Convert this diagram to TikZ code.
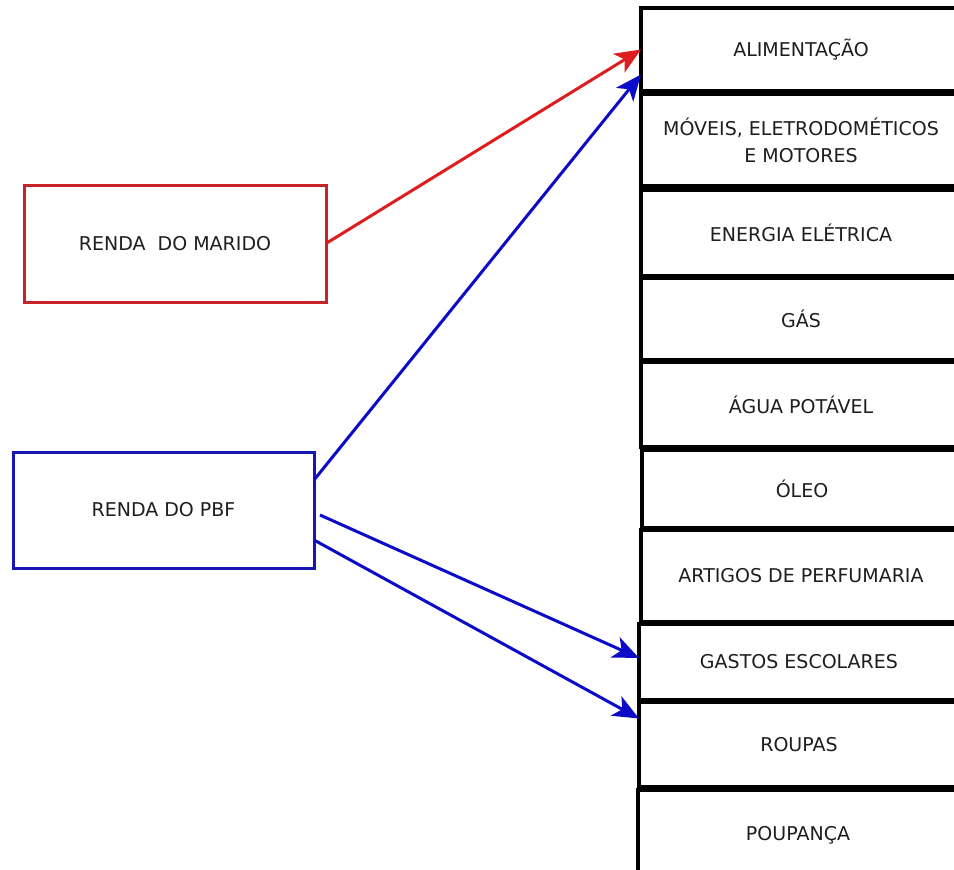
\documentclass[tikz,border=0pt]{standalone}
\usepackage{fontspec}
\setmainfont{DejaVu Sans}
\usetikzlibrary{arrows.meta}

\definecolor{husbandframe}{RGB}{200,35,40}
\definecolor{husbandarrow}{RGB}{222,30,30}
\definecolor{pbfframe}{RGB}{22,22,180}
\definecolor{pbfarrow}{RGB}{12,12,200}
\definecolor{ink}{RGB}{30,30,30}

\begin{document}
\begin{tikzpicture}[x=1pt,y=-1pt,
  every node/.style={font=\fontsize{19}{27}\selectfont, text=ink,
                     inner sep=0pt, outer sep=0pt, align=center},
  catbox/.style={draw=black, line width=3.6pt, minimum width=320pt},
  incomebox/.style={line width=3pt, minimum width=302pt, minimum height=117pt},
  flow/.style={line width=3pt,
               -{Stealth[length=26pt, width=22pt, inset=7pt]}},
  husbandflow/.style={flow, draw=husbandarrow, fill=husbandarrow},
  pbfflow/.style={flow, draw=pbfarrow, fill=pbfarrow}]

  \useasboundingbox (0,0) rectangle (954,870);
  \fill[white] (0,0) rectangle (954,870);
  \clip (0,0) rectangle (954,870);

  % income sources
  \node[incomebox, draw=husbandframe] (marido) at (175,243.5) {RENDA\ \ DO MARIDO};
  \node[incomebox, draw=pbfframe, minimum width=301pt, minimum height=116pt]
        (pbf) at (163.5,510) {RENDA DO PBF};

  % expense categories, stacked on the right
  \node[catbox, minimum height=83pt] (alim)    at (801,49.5)  {ALIMENTAÇÃO};
  \node[catbox, minimum height=92pt] (moveis)  at (801,140)   {MÓVEIS, ELETRODOMÉTICOS\\E MOTORES};
  \node[catbox, minimum height=86pt] (energia) at (801,233)   {ENERGIA ELÉTRICA};
  \node[catbox, minimum height=82pt] (gas)     at (801,319)   {GÁS};
  \node[catbox, minimum height=85pt] (agua)    at (801,404.5) {ÁGUA POTÁVEL};
  \node[catbox, minimum height=78pt] (oleo)    at (802,489)   {ÓLEO};
  \node[catbox, minimum height=92pt] (artigos) at (801,576)   {ARTIGOS DE PERFUMARIA};
  \node[catbox, minimum height=76pt] (gastos)  at (799,662)   {GASTOS ESCOLARES};
  \node[catbox, minimum height=85pt] (roupas)  at (799,744.5) {ROUPAS};
  \node[catbox, minimum height=86pt, text depth=0pt] (poupanca) at (798,833) {POUPANÇA};

  % where each income goes
  \draw[husbandflow] (marido.east) -- (alim.west);
  \draw[pbfflow] ([yshift=30pt]pbf.east) -- ([yshift=-25pt]alim.west);
  \draw[pbfflow] ([xshift=6pt,yshift=-5pt]pbf.east) -- ([yshift=4pt]gastos.west);
  \draw[pbfflow] ([yshift=-30pt]pbf.east) -- ([yshift=26pt]roupas.west);
\end{tikzpicture}
\end{document}
